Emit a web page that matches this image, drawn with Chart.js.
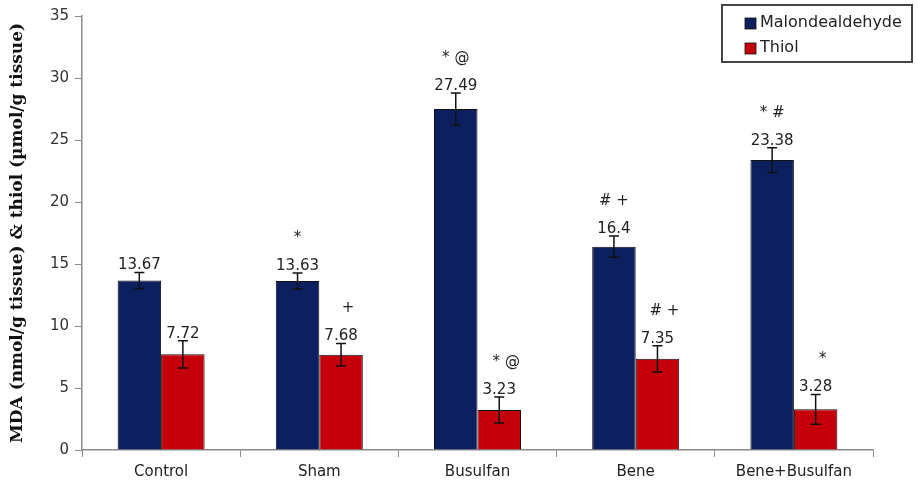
<!DOCTYPE html>
<html>
<head>
<meta charset="utf-8">
<script src="https://cdn.jsdelivr.net/npm/chart.js@4.4.0/dist/chart.umd.min.js"></script>
<style>
  html, body { margin: 0; padding: 0; background: #fff; }
  #wrap { width: 918px; height: 486px; position: relative; }
</style>
</head>
<body>
<div id="wrap"><canvas id="chart"></canvas></div>
<script>
// ── Данные ────────────────────────────────────────────
const categories = ['Control', 'Sham', 'Busulfan', 'Bene', 'Bene+Busulfan']
const mdaValues   = [13.67, 13.63, 27.49, 16.4, 23.38]
const thiolValues = [7.72, 7.68, 3.23, 7.35, 3.28]
const mdaErrors   = [0.65, 0.65, 1.3, 0.85, 1.0]
const thiolErrors = [1.1, 0.9, 1.05, 1.05, 1.2]
const mdaMarks    = ['', '*', '* @', '# +', '* #']
const thiolMarks  = ['', '+', '* @', '# +', '*']
const yTicks      = [0, 5, 10, 15, 20, 25, 30, 35]

const BLUE = '#0c1f5f'
const RED  = '#c4000b'
const labelFont = '15px "DejaVu Sans", sans-serif'

// ошибки, подписи значений и значки значимости
const annotatePlugin = {
  id: 'annotate',
  afterDatasetsDraw(chart) {
    const ctx = chart.ctx
    const y = chart.scales.y
    const sets = [
      { vals: mdaValues,   errs: mdaErrors,   marks: mdaMarks,   dx: 0 },
      { vals: thiolValues, errs: thiolErrors, marks: thiolMarks, dx: 7 }
    ]
    sets.forEach((s, di) => {
      const meta = chart.getDatasetMeta(di)
      meta.data.forEach((bar, i) => {
        const x = bar.x
        const top = y.getPixelForValue(s.vals[i] + s.errs[i])
        const bot = y.getPixelForValue(s.vals[i] - s.errs[i])
        ctx.save()
        ctx.strokeStyle = '#111'
        ctx.lineWidth = 1.5
        ctx.beginPath()
        ctx.moveTo(x, top); ctx.lineTo(x, bot)
        ctx.moveTo(x - 5, top); ctx.lineTo(x + 5, top)
        ctx.moveTo(x - 5, bot); ctx.lineTo(x + 5, bot)
        ctx.stroke()

        ctx.fillStyle = '#222'
        ctx.font = labelFont
        ctx.textAlign = 'center'
        ctx.textBaseline = 'middle'
        ctx.fillText(String(s.vals[i]), x, top - 7)
        if (s.marks[i]) {
          ctx.fillText(s.marks[i], x + s.dx, top - 35)
        }
        ctx.restore()
      })
    })
  }
}

// легенда в рамке справа сверху
const boxLegendPlugin = {
  id: 'boxLegend',
  afterDraw(chart) {
    const ctx = chart.ctx
    const items = [
      { text: 'Malondealdehyde', color: BLUE },
      { text: 'Thiol', color: RED }
    ]
    ctx.save()
    ctx.fillStyle = '#fff'
    ctx.fillRect(722, 5, 190, 57)
    ctx.strokeStyle = '#444'
    ctx.lineWidth = 2
    ctx.strokeRect(722, 5, 190, 57)
    ctx.font = '16px "DejaVu Sans", sans-serif'
    ctx.textBaseline = 'middle'
    ctx.textAlign = 'left'
    items.forEach((it, i) => {
      const cy = 23 + i * 25
      ctx.fillStyle = it.color
      ctx.fillRect(745, cy - 5, 11, 11)
      ctx.strokeStyle = '#111'
      ctx.lineWidth = 0.8
      ctx.strokeRect(745, cy - 5, 11, 11)
      ctx.fillStyle = '#222'
      ctx.fillText(it.text, 760, cy)
    })
    ctx.restore()
  }
}

new Chart(document.getElementById('chart'), {
  type: 'bar',
  data: {
    labels: categories,
    datasets: [
      { label: 'Malondealdehyde', data: mdaValues, backgroundColor: BLUE, borderColor: '#111', borderWidth: 1 },
      { label: 'Thiol', data: thiolValues, backgroundColor: RED, borderColor: '#111', borderWidth: 1 }
    ]
  },
  options: {
    responsive: true, maintainAspectRatio: false, animation: false,
    layout: { padding: { top: 16, right: 45, left: 0, bottom: 0 } },
    plugins: { legend: { display: false }, tooltip: { enabled: false } },
    datasets: { bar: { categoryPercentage: 0.55, barPercentage: 1 } },
    scales: {
      x: {
        grid: { display: true, drawOnChartArea: false, tickLength: 7, color: '#8a8a8a' },
        border: { color: '#8a8a8a', width: 1.5 },
        ticks: { color: '#222', font: { family: 'DejaVu Sans', size: 15 }, padding: 6, maxRotation: 0 },
        afterFit: s => { s.height = 36 }
      },
      y: {
        min: 0, max: 35,
        afterBuildTicks: s => { s.ticks = yTicks.map(v => ({ value: v })) },
        grid: { display: true, drawOnChartArea: false, tickLength: 7, color: '#8a8a8a' },
        border: { color: '#8a8a8a', width: 1.5 },
        ticks: { color: '#333', font: { family: 'DejaVu Sans', size: 15 }, padding: 6 },
        title: {
          display: true,
          text: 'MDA (nmol/g tissue) & thiol (µmol/g tissue)',
          color: '#111',
          font: { family: 'DejaVu Serif', size: 17, weight: 'bold' },
          padding: { top: 7, bottom: 0 }
        },
        afterFit: s => { s.width = 82 }
      }
    }
  },
  plugins: [annotatePlugin, boxLegendPlugin]
})
</script>
</body>
</html>
